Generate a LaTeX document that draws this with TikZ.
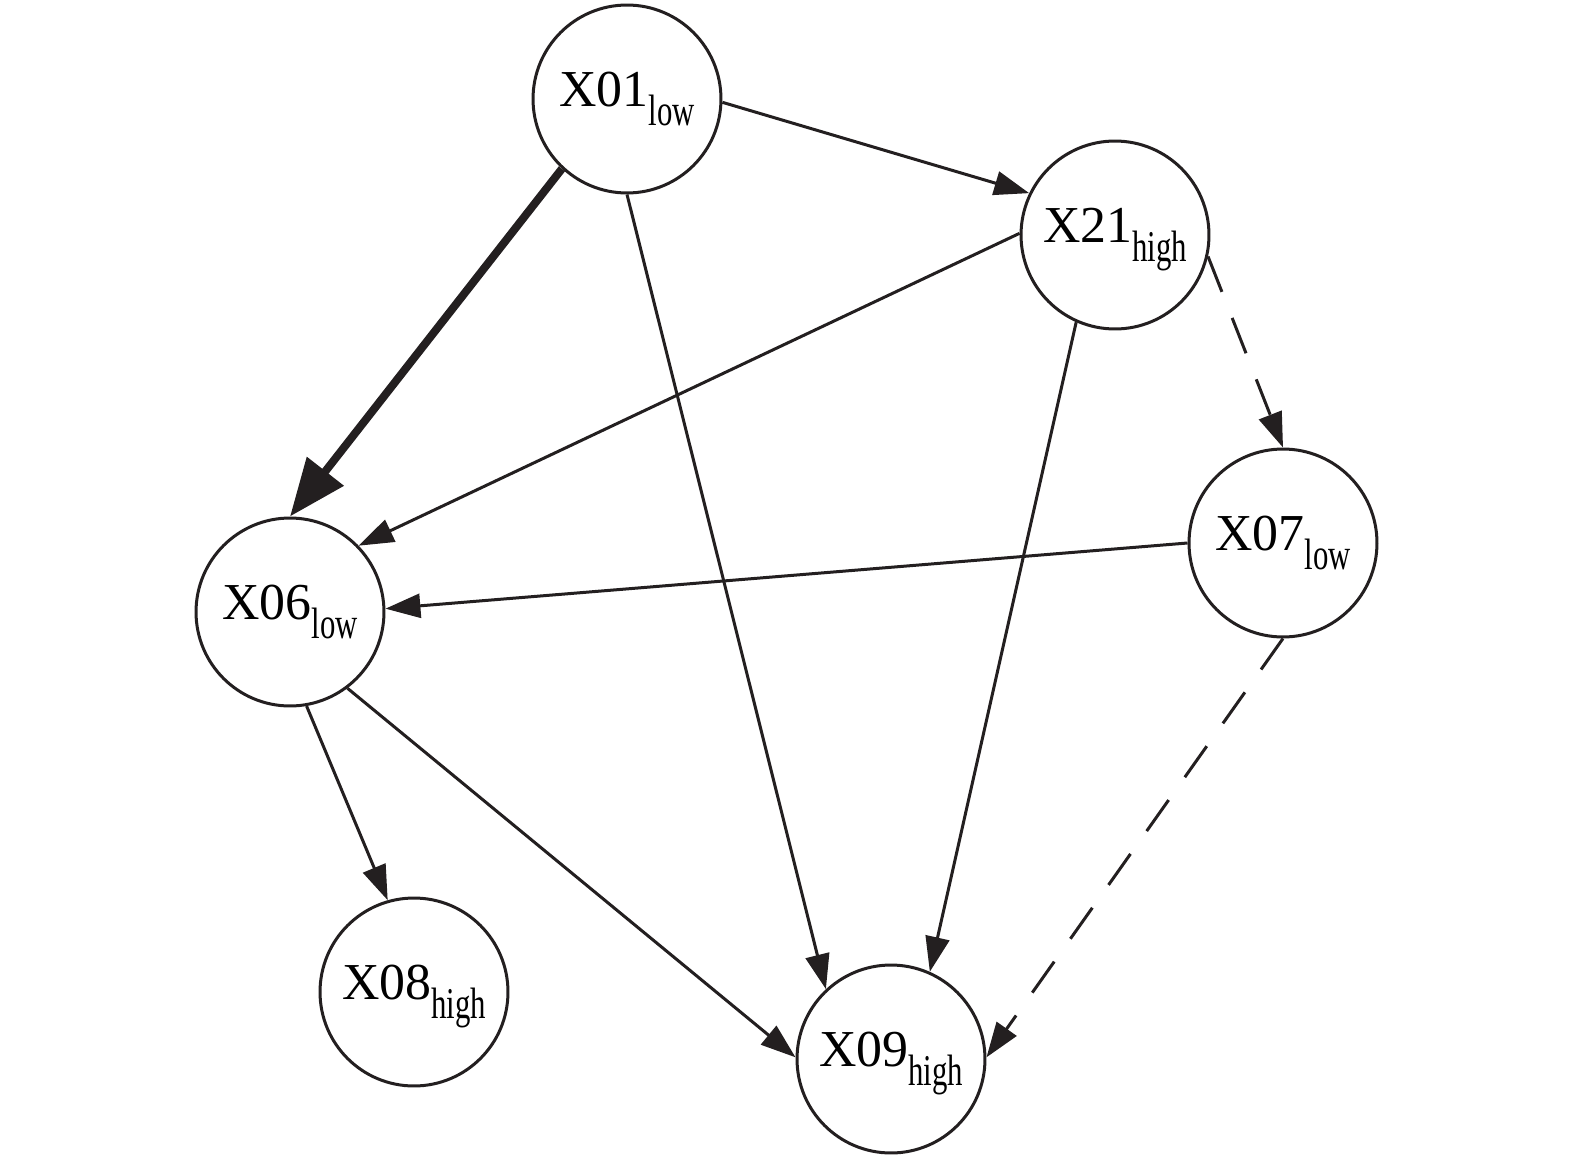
\documentclass[tikz,border=0pt]{standalone}
\usepackage{fontspec}
\setmainfont{Liberation Serif}
\newfontfamily\subfont[FakeStretch=0.7]{Liberation Serif}
\usepackage{tikz}
\usetikzlibrary{arrows.meta}
\definecolor{sdark}{HTML}{231F20}
\newcommand{\lvl}[1]{\raisebox{-10.8pt}[0pt][10.8pt]{\subfont\fontsize{25}{25}\selectfont #1}}

\begin{document}
\begin{tikzpicture}[x=0.02cm, y=-0.02cm,
    VAR/.style={circle, draw=sdark, line width=0.06cm, minimum size=3.76cm, inner sep=0pt, font=\fontsize{29.5}{29.5}\selectfont},
    EDG/.style={draw=sdark, line width=0.06cm, -{Triangle[length=0.7cm, width=0.48cm]}},
    STR/.style={draw=sdark, line width=0.16cm, -{Triangle[length=1.15cm, width=0.9cm]}},
    DSH/.style={EDG, dash pattern=on 0.76cm off 0.56cm}
    ]
        \useasboundingbox (0,0) rectangle (1575,1159);
        \node[VAR] (X01) at (627,99)   {X01\lvl{low}};
        \node[VAR] (X21) at (1115,235) {X21\lvl{high}};
        \node[VAR] (X07) at (1283,543) {X07\lvl{low}};
        \node[VAR] (X06) at (290,612)  {X06\lvl{low}};
        \node[VAR] (X08) at (414,992)  {X08\lvl{high}};
        \node[VAR] (X09) at (891,1059) {X09\lvl{high}};
        % edges
        \draw[EDG] (X01.-2) -- (X21.154);
        \draw[STR] (X01.-133) -- (X06.90);
        \draw[EDG] (X01.-90) -- (X09.133);
        \draw[EDG] (X21.179) -- (X06.44);
        \draw[DSH] (X21.-13) -- (X07.90);
        \draw[EDG] (X21.-114) -- (X09.66);
        \draw[EDG] (X07.180) -- (X06.2);
        \draw[DSH] (X07.-90) -- (X09.1);
        \draw[EDG] (X06.-80) -- (X08.106);
        \draw[EDG] (X06.-53) -- (X09.179);
    \end{tikzpicture}
\end{document}
